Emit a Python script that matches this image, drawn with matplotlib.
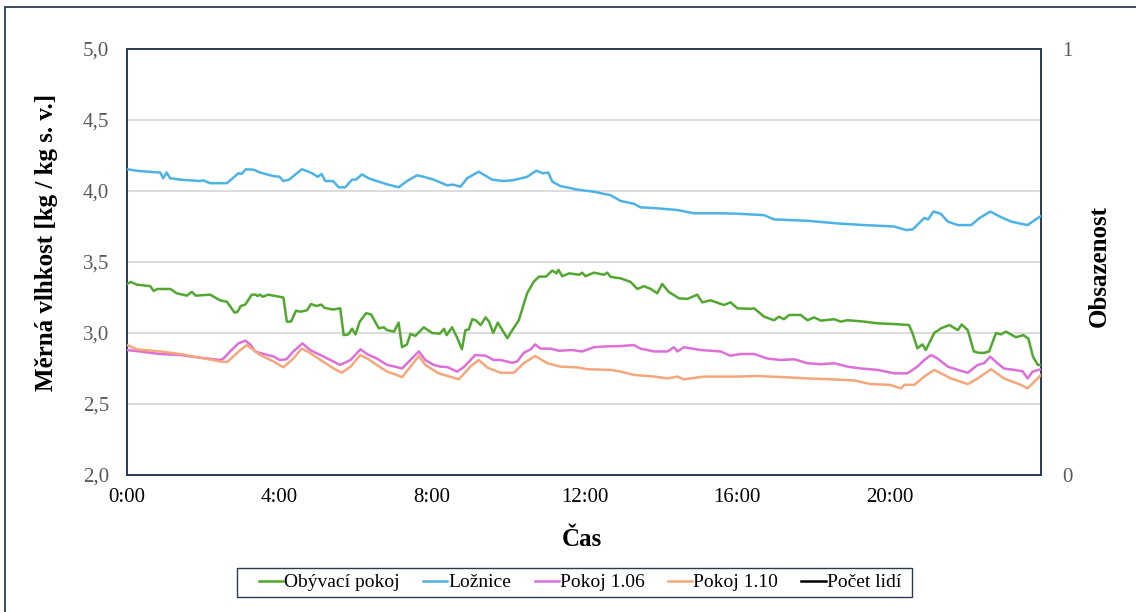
import matplotlib
matplotlib.use("Agg")
import matplotlib.pyplot as plt
from matplotlib.ticker import FuncFormatter
from matplotlib.patches import Rectangle

# ---- data (time in hours, value in kg/kg s.v.) ----
obyvaci = [(0,3.345),(0.1,3.36),(0.26,3.34),(0.61,3.33),(0.7,3.296),(0.79,3.31),(1.14,3.31),(1.3,3.28),(1.57,3.263),(1.7,3.29),(1.8,3.263),(2.18,3.27),(2.44,3.23),(2.62,3.22),(2.82,3.143),(2.9,3.15),(2.98,3.19),(3.1,3.2),(3.27,3.27),(3.38,3.27),(3.42,3.26),(3.49,3.27),(3.56,3.255),(3.7,3.27),(4.1,3.25),(4.19,3.08),(4.3,3.08),(4.43,3.157),(4.55,3.15),(4.72,3.16),(4.82,3.204),(4.97,3.19),(5.09,3.2),(5.18,3.177),(5.4,3.165),(5.59,3.174),(5.68,2.985),(5.8,2.99),(5.9,3.03),(5.99,2.99),(6.1,3.08),(6.27,3.14),(6.4,3.13),(6.6,3.033),(6.73,3.04),(6.82,3.02),(7.0,3.01),(7.12,3.073),(7.21,2.9),(7.34,2.92),(7.43,2.993),(7.56,2.98),(7.78,3.04),(8.0,3.0),(8.2,2.995),(8.31,3.03),(8.38,2.985),(8.52,3.04),(8.65,2.97),(8.78,2.885),(8.87,3.02),(8.96,3.025),(9.05,3.097),(9.14,3.09),(9.27,3.056),(9.4,3.11),(9.49,3.08),(9.6,3.0),(9.72,3.073),(9.97,2.963),(10.1,3.02),(10.27,3.09),(10.49,3.28),(10.66,3.36),(10.8,3.397),(10.98,3.397),(11.15,3.44),(11.26,3.42),(11.31,3.445),(11.41,3.40),(11.59,3.42),(11.85,3.41),(11.93,3.425),(12.02,3.40),(12.24,3.425),(12.5,3.41),(12.59,3.425),(12.68,3.395),(12.94,3.385),(13.2,3.36),(13.38,3.31),(13.55,3.33),(13.73,3.31),(13.9,3.28),(14.03,3.345),(14.2,3.29),(14.47,3.244),(14.69,3.24),(14.95,3.27),(15.08,3.216),(15.3,3.23),(15.65,3.197),(15.82,3.216),(16.0,3.174),(16.35,3.17),(16.44,3.174),(16.7,3.115),(16.96,3.09),(17.09,3.115),(17.22,3.097),(17.36,3.127),(17.66,3.127),(17.84,3.09),(18.01,3.11),(18.19,3.087),(18.54,3.097),(18.71,3.08),(18.89,3.09),(19.33,3.08),(19.68,3.068),(20.11,3.063),(20.5,3.056),(20.59,3.0),(20.72,2.892),(20.85,2.92),(20.94,2.88),(21.16,3.0),(21.34,3.033),(21.56,3.056),(21.78,3.02),(21.88,3.06),(22.04,3.02),(22.2,2.87),(22.33,2.86),(22.47,2.86),(22.6,2.87),(22.78,3.0),(22.91,2.99),(23.04,3.01),(23.3,2.97),(23.5,2.985),(23.63,2.96),(23.75,2.833),(23.88,2.775),(23.96,2.775)]

loznice = [(0,4.153),(0.34,4.14),(0.87,4.13),(0.95,4.09),(1.04,4.13),(1.13,4.09),(1.39,4.08),(1.92,4.07),(2.0,4.075),(2.18,4.055),(2.62,4.055),(2.92,4.125),(3.0,4.12),(3.12,4.153),(3.32,4.15),(3.49,4.13),(3.84,4.105),(4.0,4.10),(4.1,4.07),(4.25,4.08),(4.58,4.153),(4.72,4.14),(4.85,4.125),(5.0,4.10),(5.1,4.12),(5.2,4.07),(5.4,4.07),(5.55,4.026),(5.72,4.026),(5.9,4.08),(6.0,4.08),(6.16,4.117),(6.33,4.09),(6.55,4.07),(6.82,4.047),(7.12,4.026),(7.34,4.07),(7.6,4.11),(7.78,4.10),(8.04,4.08),(8.39,4.04),(8.55,4.045),(8.74,4.03),(8.92,4.09),(9.22,4.136),(9.57,4.08),(9.88,4.07),(10.14,4.077),(10.49,4.10),(10.73,4.143),(10.9,4.125),(11.04,4.13),(11.15,4.066),(11.36,4.035),(11.8,4.01),(12.24,3.995),(12.68,3.97),(12.94,3.93),(13.29,3.91),(13.46,3.885),(13.8,3.88),(14.43,3.866),(14.86,3.843),(15.56,3.843),(16.0,3.84),(16.7,3.83),(16.96,3.80),(17.84,3.79),(18.71,3.77),(19.33,3.76),(20.11,3.75),(20.42,3.725),(20.6,3.73),(20.9,3.81),(21.0,3.80),(21.14,3.855),(21.33,3.84),(21.52,3.784),(21.78,3.76),(22.13,3.76),(22.35,3.81),(22.63,3.855),(22.92,3.815),(23.18,3.784),(23.61,3.76),(23.82,3.80),(23.96,3.824)]

pokoj_106 = [(0,2.88),(0.34,2.87),(0.87,2.852),(1.39,2.845),(1.92,2.826),(2.44,2.81),(2.53,2.82),(2.7,2.87),(2.92,2.927),(3.1,2.946),(3.23,2.92),(3.36,2.87),(3.58,2.852),(3.84,2.835),(4.0,2.81),(4.18,2.815),(4.36,2.87),(4.6,2.927),(4.8,2.88),(5.07,2.845),(5.33,2.81),(5.59,2.775),(5.86,2.81),(6.12,2.885),(6.29,2.852),(6.55,2.82),(6.82,2.775),(7.07,2.76),(7.21,2.75),(7.43,2.81),(7.65,2.87),(7.82,2.81),(8.04,2.775),(8.22,2.763),(8.4,2.76),(8.65,2.728),(8.83,2.76),(9.13,2.845),(9.4,2.84),(9.61,2.81),(9.79,2.81),(10.1,2.79),(10.23,2.80),(10.4,2.86),(10.58,2.885),(10.7,2.92),(10.84,2.89),(11.1,2.89),(11.32,2.875),(11.67,2.88),(11.93,2.87),(12.24,2.90),(12.5,2.905),(12.94,2.908),(13.29,2.915),(13.46,2.89),(13.82,2.87),(14.17,2.87),(14.34,2.90),(14.43,2.87),(14.6,2.90),(15.04,2.88),(15.56,2.87),(15.82,2.84),(16.09,2.852),(16.44,2.852),(16.79,2.82),(17.14,2.81),(17.49,2.815),(17.84,2.787),(18.19,2.78),(18.54,2.787),(18.89,2.763),(19.24,2.75),(19.68,2.74),(20.11,2.716),(20.46,2.716),(20.72,2.763),(20.9,2.81),(21.08,2.845),(21.25,2.82),(21.52,2.763),(21.78,2.74),(22.04,2.72),(22.3,2.775),(22.47,2.787),(22.63,2.833),(22.82,2.787),(22.99,2.75),(23.26,2.74),(23.48,2.73),(23.61,2.68),(23.74,2.728),(23.96,2.745)]

pokoj_110 = [(0,2.915),(0.26,2.885),(0.87,2.87),(1.39,2.852),(1.92,2.826),(2.44,2.80),(2.62,2.795),(2.79,2.835),(2.97,2.88),(3.14,2.915),(3.32,2.88),(3.49,2.845),(3.84,2.80),(4.1,2.758),(4.36,2.82),(4.58,2.89),(4.8,2.86),(5.07,2.81),(5.42,2.75),(5.63,2.72),(5.86,2.763),(6.12,2.845),(6.33,2.815),(6.55,2.775),(6.82,2.728),(7.07,2.705),(7.21,2.688),(7.43,2.763),(7.65,2.838),(7.82,2.775),(8.17,2.716),(8.7,2.674),(9.0,2.763),(9.22,2.81),(9.44,2.758),(9.79,2.72),(10.14,2.72),(10.4,2.787),(10.7,2.838),(11.02,2.787),(11.36,2.763),(11.8,2.758),(12.07,2.745),(12.68,2.74),(12.94,2.728),(13.29,2.705),(13.82,2.693),(14.17,2.68),(14.43,2.693),(14.6,2.674),(15.12,2.693),(16.04,2.693),(16.5,2.697),(17.31,2.688),(17.84,2.68),(18.45,2.674),(19.06,2.666),(19.5,2.64),(20.0,2.635),(20.29,2.61),(20.38,2.635),(20.64,2.635),(20.9,2.693),(21.16,2.74),(21.34,2.716),(21.6,2.68),(22.04,2.64),(22.3,2.68),(22.65,2.745),(22.99,2.68),(23.43,2.635),(23.61,2.61),(23.96,2.705)]

series_names = ["Obývací pokoj", "Ložnice", "Pokoj 1.06", "Pokoj 1.10"]
series_data = [obyvaci, loznice, pokoj_106, pokoj_110]
series_colors = ["#52a731", "#4db3e6", "#dc6fd8", "#f5a77c"]
people_name = "Počet lidí"

x_ticks = [0, 4, 8, 12, 16, 20]
y_ticks = [2.0, 2.5, 3.0, 3.5, 4.0, 4.5, 5.0]

# ---- figure ----
plt.rcParams['font.family'] = ['Liberation Serif', 'DejaVu Serif']
W, H = 1136, 612
fig = plt.figure(figsize=(W/100, H/100), dpi=100)
fig.patch.set_facecolor('white')

frame_col = "#2a3a55"
fig.patches.append(Rectangle((5/W, -0.1), 1.2, 1 - 7/H + 0.1, transform=fig.transFigure,
                             fill=False, edgecolor=frame_col, linewidth=1.3))

ax = fig.add_axes([127/W, 1 - 475/H, (1041-127)/W, (475-49)/H])
for name, data, col in zip(series_names, series_data, series_colors):
    xs = [p[0] for p in data]
    ys = [p[1] for p in data]
    ax.plot(xs, ys, color=col, linewidth=1.8, label=name, zorder=3)

ax.set_xlim(0, 23.96)
ax.set_ylim(2.0, 5.0)
ax.set_yticks(y_ticks)
ax.set_xticks(x_ticks)
ax.yaxis.set_major_formatter(FuncFormatter(lambda v, p: f"{v:.1f}".replace('.', ',')))
ax.xaxis.set_major_formatter(FuncFormatter(lambda v, p: f"{int(v)}:00"))
ax.grid(axis='y', color='#d9d9d9', linewidth=1.3, zorder=0)
ax.set_axisbelow(True)
ax.tick_params(axis='y', length=0, pad=13, labelsize=15, labelcolor='#595959')
ax.tick_params(axis='x', length=0, pad=9, labelsize=15, labelcolor='black')
for s in ax.spines.values():
    s.set_color(frame_col)
    s.set_linewidth(1.4)

ax.set_ylabel("Měrná vlhkost [kg / kg s. v.]", fontsize=18, fontweight='bold')
ax.yaxis.set_label_coords(-0.076, 0.545)

ax2 = ax.twinx()
ax2.set_ylim(0, 1)
ax2.set_yticks([0, 1])
ax2.yaxis.set_major_formatter(FuncFormatter(lambda v, p: f"{int(v)}"))
ax2.tick_params(axis='y', length=0, pad=15, labelsize=15, labelcolor='#595959')
ax2.plot([], [], color='black', linewidth=1.8, label=people_name)
for s in ax2.spines.values():
    s.set_visible(False)
ax2.set_ylabel("Obsazenost", fontsize=18, fontweight='bold', rotation=90)
ax2.yaxis.set_label_coords(1.051, 0.49)

fig.text(582/W, 1 - 540/H, "Čas", fontsize=18, fontweight='bold', ha='center', va='center')

# legend box (Excel-style wide padding)
fig.patches.append(Rectangle((237/W, 1 - 597/H), (912-237)/W, 29/H, transform=fig.transFigure,
                             fill=False, edgecolor=frame_col, linewidth=1.0))
h1, l1 = ax.get_legend_handles_labels()
h2, l2 = ax2.get_legend_handles_labels()
leg = fig.legend(h1 + h2, l1 + l2, loc='center', bbox_to_anchor=(580/W, 1 - 582.5/H),
                 ncol=5, fontsize=14, frameon=False, handlelength=1.25,
                 handletextpad=0.05, columnspacing=1.2, borderpad=0.3, borderaxespad=0)

fig.savefig("out.png", dpi=100, facecolor='white')
